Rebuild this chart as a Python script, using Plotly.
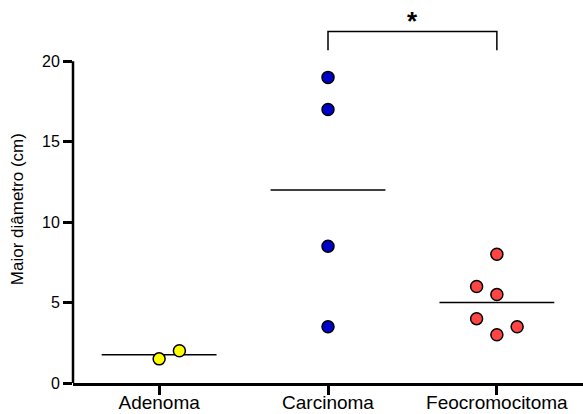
import numpy as np
import plotly.graph_objects as go

categories = ["Adenoma", "Carcinoma", "Feocromocitoma"]
adenoma = [1.5, 2.0]
adenoma_jitter = [0.0, 0.12]
carcinoma = [19.0, 17.0, 8.5, 3.5]
carcinoma_jitter = [0.0, 0.0, 0.0, 0.0]
feocromocitoma = [8.0, 6.0, 5.5, 4.0, 3.5, 3.0]
feocromocitoma_jitter = [0.0, -0.12, 0.0, -0.12, 0.12, 0.0]
colors = ["#FFFF00", "#0000CC", "#FF4444"]
y_ticks = [0, 5, 10, 15, 20]
y_title = "Maior diâmetro (cm)"
sig_label = "*"

groups = [adenoma, carcinoma, feocromocitoma]
jitters = [adenoma_jitter, carcinoma_jitter, feocromocitoma_jitter]

FONT = "Liberation Sans, Arial, sans-serif"
fig = go.Figure()

half = 0.34
for i, (vals, jit, col) in enumerate(zip(groups, jitters, colors)):
    m = float(np.mean(vals))
    fig.add_trace(go.Scatter(x=[i - half, i + half], y=[m, m], mode="lines",
                             line=dict(color="black", width=1.5),
                             showlegend=False, hoverinfo="skip"))
    fig.add_trace(go.Scatter(x=[i + j for j in jit], y=vals, mode="markers",
                             marker=dict(size=12, color=col,
                                         line=dict(color="black", width=1.5)),
                             showlegend=False, cliponaxis=False))

# y axis line only from 0 to 20
fig.add_shape(type="line", xref="paper", yref="y", x0=0, x1=0,
              y0=y_ticks[0], y1=y_ticks[-1], line=dict(color="black", width=2.5))

# significance bracket between Carcinoma and Feocromocitoma
yb, yt = 21.86, 20.68
fig.add_shape(type="path", xref="x", yref="y",
              path=f"M 1,{yt} L 1,{yb} L 2,{yb} L 2,{yt}",
              line=dict(color="black", width=1.5))
fig.add_annotation(x=1.5, y=22.5, xref="x", yref="y", text=f"<b>{sig_label}</b>",
                   showarrow=False, font=dict(size=26, color="black", family=FONT),
                   yanchor="middle")

fig.add_annotation(x=-0.11, y=10.8, xref="paper", yref="y", text=y_title,
                   textangle=-90, showarrow=False, xanchor="center", yanchor="middle",
                   font=dict(size=17, color="black", family=FONT))

fig.update_xaxes(range=[-0.51, 2.51], tickmode="array", tickvals=[0, 1, 2],
                 ticktext=categories, showline=True, linecolor="black", linewidth=2.5,
                 ticks="outside", ticklen=9, tickwidth=2.5, tickcolor="black",
                 showgrid=False, zeroline=False, automargin=False,
                 ticklabelstandoff=-9,
                 tickfont=dict(size=19, color="black", family=FONT))
fig.update_yaxes(range=[0, 23.5], tickmode="array", tickvals=y_ticks,
                 showline=False, ticks="outside", ticklen=9, tickwidth=2.5,
                 tickcolor="black", showgrid=False, zeroline=False, automargin=False,
                 tickfont=dict(size=16, color="black", family=FONT))

fig.update_layout(width=583, height=414, autosize=False,
                  margin=dict(l=73, r=0, t=5, b=31),
                  plot_bgcolor="white", paper_bgcolor="white",
                  font=dict(family=FONT, color="black"))

fig.write_html("out.html", config={"displayModeBar": False},
               post_script="document.body.style.margin='0';document.body.style.overflow='hidden';")
